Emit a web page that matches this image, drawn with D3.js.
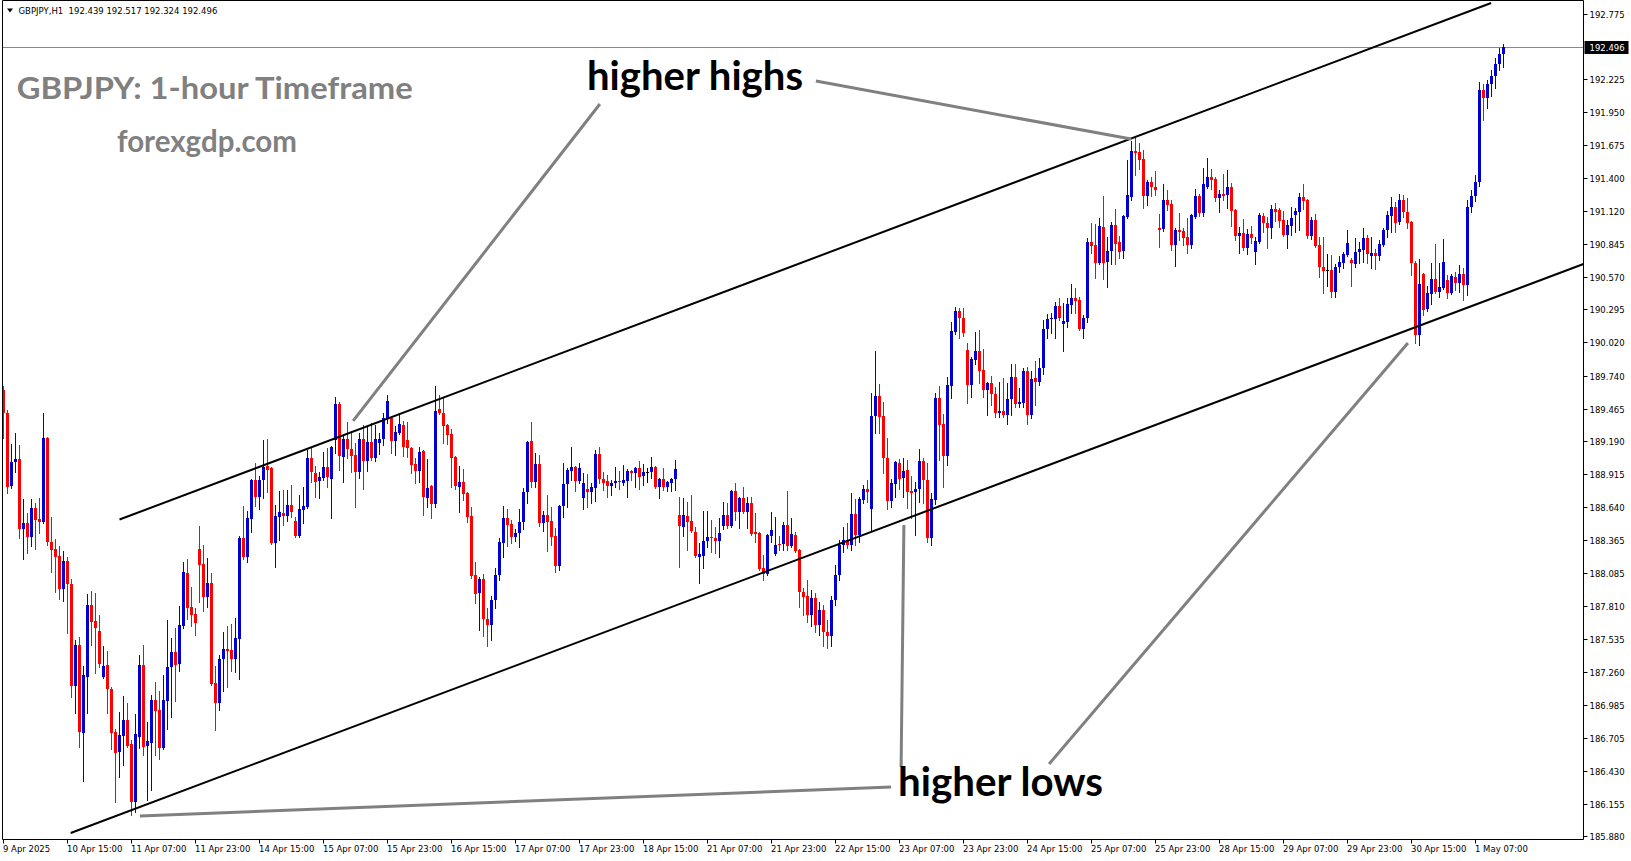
<!DOCTYPE html>
<html><head><meta charset="utf-8">
<script src="https://cdn.jsdelivr.net/npm/d3@7"></script>
<style>html,body{margin:0;padding:0;background:#fff;overflow:hidden}</style>
</head><body><svg id="c" width="1631" height="861"></svg>
<script>
// ---------------- data ----------------
const symbolInfo = "GBPJPY,H1  192.439 192.517 192.324 192.496";
const lastPrice = 192.496;
const timeLabels = ["9 Apr 2025","10 Apr 15:00","11 Apr 07:00","11 Apr 23:00","14 Apr 15:00","15 Apr 07:00","15 Apr 23:00","16 Apr 15:00","17 Apr 07:00","17 Apr 23:00","18 Apr 15:00","21 Apr 07:00","21 Apr 23:00","22 Apr 15:00","23 Apr 07:00","23 Apr 23:00","24 Apr 15:00","25 Apr 07:00","25 Apr 23:00","28 Apr 15:00","29 Apr 07:00","29 Apr 23:00","30 Apr 15:00","1 May 07:00"];
const barsPerLabel = 16;
const priceTicks = [192.775,192.225,191.950,191.675,191.400,191.120,190.845,190.570,190.295,190.020,189.740,189.465,189.190,188.915,188.640,188.365,188.085,187.810,187.535,187.260,186.985,186.705,186.430,186.155,185.880];

const opens = [
189.620,189.428,188.816,189.017,189.042,188.455,188.506,188.388,188.632,188.539,
188.514,189.218,188.346,188.288,188.230,187.952,188.188,187.994,187.140,187.484,
186.746,187.216,187.819,187.685,187.601,187.216,187.316,187.115,186.754,186.587,
186.721,186.855,186.654,186.168,186.713,187.316,186.637,186.663,187.023,186.939,
186.621,187.014,187.300,187.425,187.325,187.643,188.087,187.802,187.744,188.288,
188.163,187.886,188.003,187.165,186.998,187.367,187.450,187.442,187.367,187.534,
188.380,188.221,188.539,188.866,188.724,188.866,188.984,188.967,188.338,188.556,
188.590,188.565,188.657,188.523,188.397,188.615,188.640,189.051,188.925,188.858,
188.883,188.975,188.874,189.201,189.503,189.059,189.210,189.126,189.076,188.933,
189.210,189.025,189.185,189.051,189.176,189.210,189.386,189.386,189.193,189.260,
189.327,189.201,189.135,189.000,188.942,189.109,188.716,188.816,188.665,189.461,
189.428,189.327,189.252,189.059,188.807,188.849,188.757,188.565,188.070,187.919,
188.036,187.702,187.651,187.861,188.070,188.338,188.548,188.497,188.389,188.422,
188.514,188.766,189.193,188.849,189.000,188.506,188.573,188.523,188.397,188.146,
188.648,188.833,188.942,188.975,188.858,188.716,188.791,188.766,188.799,189.084,
188.874,188.858,188.816,188.841,188.858,188.841,188.858,188.942,188.925,188.967,
188.900,188.933,188.933,188.975,188.807,188.874,188.807,188.841,188.874,188.573,
188.472,188.565,188.523,188.430,188.221,188.230,188.355,188.389,188.380,188.355,
188.481,188.573,188.481,188.774,188.598,188.716,188.598,188.674,188.430,188.422,
188.129,188.079,188.397,188.246,188.330,188.330,188.489,188.314,188.406,188.280,
187.928,187.894,187.735,187.878,187.651,187.777,187.593,187.559,187.861,188.070,
188.322,188.363,188.322,188.581,188.406,188.699,188.791,188.623,189.403,189.570,
189.403,189.051,188.690,188.833,189.009,188.883,188.950,188.774,188.766,188.791,
189.025,188.866,188.380,188.699,189.553,189.335,189.067,189.654,190.106,190.282,
190.224,189.955,189.662,189.872,189.947,189.788,189.620,189.679,189.587,189.428,
189.444,189.411,189.545,189.729,189.503,189.511,189.779,189.411,189.721,189.687,
189.805,190.131,190.215,190.215,190.324,190.173,190.190,190.332,190.391,190.374,
190.131,190.224,190.860,190.835,190.684,190.986,190.693,190.785,191.003,190.860,
190.785,191.070,191.237,191.623,191.614,191.556,191.246,191.363,191.321,190.978,
190.969,191.212,191.179,190.835,190.961,190.953,190.902,190.835,191.070,191.246,
191.103,191.321,191.405,191.388,191.229,191.262,191.254,191.321,191.128,190.911,
190.936,190.810,190.927,190.777,190.860,191.078,191.020,190.978,191.137,191.128,
191.045,190.919,190.994,191.087,191.112,191.237,191.212,190.911,191.045,190.835,
190.651,190.626,190.626,190.441,190.651,190.684,190.752,190.709,190.676,190.777,
190.793,190.894,190.743,190.768,190.743,190.835,190.961,191.078,191.154,191.028,
191.212,191.112,191.028,190.684,190.081,190.592,190.299,190.425,190.550,190.441,
190.475,190.542,190.433,190.567,190.517,190.592,190.500,191.154,191.250,191.363,
192.134,192.067,192.184,192.251,192.352,192.439];

const highs = [
189.654,189.453,189.167,189.260,189.159,188.707,188.590,188.707,188.674,188.716,
189.428,189.227,188.556,188.372,188.314,188.271,188.221,188.036,187.526,187.551,
187.308,187.910,187.936,187.919,187.735,187.476,187.434,187.132,186.779,186.922,
187.056,186.998,186.688,186.906,187.400,187.484,186.839,187.065,187.174,187.098,
187.232,187.693,187.542,187.626,187.811,188.179,188.204,187.970,187.794,188.481,
188.322,188.213,188.087,187.308,187.400,187.593,187.643,187.660,187.710,188.397,
188.648,188.606,188.874,189.009,188.900,189.201,189.210,188.975,188.657,188.774,
188.782,188.782,188.824,188.556,188.741,188.807,189.118,189.135,188.984,188.933,
189.101,189.135,189.151,189.561,189.520,189.243,189.352,189.277,189.176,189.260,
189.327,189.310,189.344,189.327,189.260,189.428,189.578,189.394,189.319,189.428,
189.361,189.352,189.143,189.051,189.143,189.118,189.042,188.824,189.654,189.578,
189.553,189.335,189.294,189.067,188.984,188.958,188.766,188.640,188.179,188.053,
188.079,187.794,187.894,188.129,188.380,188.648,188.623,188.531,188.455,188.623,
188.799,189.193,189.352,189.092,189.076,188.606,188.741,188.640,188.464,188.657,
189.009,188.967,189.143,188.984,189.009,188.925,188.917,188.841,189.118,189.143,
188.933,188.908,188.866,188.975,188.942,188.992,188.958,188.950,188.975,189.025,
189.000,188.967,189.059,188.984,188.883,188.967,188.858,188.883,189.034,188.724,
188.716,188.682,188.741,188.472,188.338,188.606,188.606,188.531,188.472,188.548,
188.682,188.674,188.782,188.841,188.724,188.807,188.724,188.724,188.590,188.430,
188.238,188.414,188.598,188.556,188.397,188.514,188.774,188.548,188.430,188.288,
187.961,188.028,187.944,187.919,187.844,187.819,187.693,187.894,188.154,188.363,
188.472,188.506,188.757,188.707,188.724,188.824,188.866,189.595,189.947,189.671,
189.520,189.218,188.874,189.025,189.042,189.051,189.034,188.900,188.849,189.126,
189.051,189.009,188.757,189.595,189.654,189.419,189.729,190.190,190.316,190.307,
190.307,190.014,189.897,190.106,190.123,189.964,189.687,189.738,189.645,189.687,
189.721,189.679,189.838,189.838,189.637,189.805,189.813,189.779,189.863,189.888,
190.207,190.257,190.265,190.358,190.391,190.349,190.391,190.508,190.475,190.400,
190.249,190.894,191.020,191.011,191.061,191.246,190.902,191.028,191.137,190.911,
191.087,191.547,191.707,191.740,191.690,191.631,191.380,191.405,191.455,191.095,
191.346,191.296,191.212,190.978,191.103,190.978,191.061,191.095,191.304,191.262,
191.480,191.564,191.472,191.405,191.296,191.430,191.464,191.355,191.137,190.986,
191.053,190.969,190.994,190.902,191.103,191.103,191.070,191.170,191.187,191.145,
191.120,191.045,191.154,191.145,191.271,191.346,191.221,191.070,191.095,190.902,
190.902,190.760,190.752,190.676,190.743,190.777,190.961,190.726,190.894,190.860,
190.978,190.919,190.902,190.802,190.877,190.978,191.120,191.237,191.196,191.262,
191.254,191.229,191.036,190.701,190.718,190.600,190.492,190.684,190.844,190.684,
190.886,190.584,190.592,190.609,190.668,190.643,191.212,191.300,191.422,192.201,
192.184,192.218,192.302,192.402,192.486,192.517];

const lows = [
189.218,188.757,188.799,188.933,188.380,188.204,188.255,188.314,188.288,188.422,
188.506,188.322,188.095,187.927,187.869,187.852,187.584,187.048,186.914,186.629,
186.345,186.914,187.484,187.249,187.300,187.207,186.914,186.612,186.168,186.378,
186.478,186.629,186.059,186.084,186.621,186.562,186.185,186.269,186.562,186.529,
186.612,186.779,186.880,187.014,187.266,187.626,187.702,187.643,187.568,187.844,
187.769,187.802,187.149,186.771,186.939,187.098,187.132,187.266,187.258,187.199,
188.204,188.179,188.430,188.648,188.623,188.716,188.766,188.330,188.137,188.363,
188.489,188.523,188.556,188.389,188.389,188.506,188.632,188.849,188.724,188.716,
188.866,188.807,188.548,189.092,188.950,188.849,189.051,188.933,188.640,188.883,
188.791,188.942,189.034,189.025,189.084,189.159,189.344,189.092,189.076,189.252,
189.067,189.059,188.925,188.841,188.849,188.573,188.640,188.548,188.640,189.419,
189.176,189.168,188.807,188.791,188.598,188.699,188.514,188.045,187.836,187.609,
187.559,187.476,187.526,187.794,188.028,188.221,188.314,188.338,188.355,188.305,
188.455,188.674,188.807,188.807,188.481,188.439,188.271,188.322,188.095,188.112,
188.556,188.640,188.866,188.774,188.841,188.623,188.640,188.674,188.690,188.841,
188.782,188.724,188.741,188.807,188.791,188.824,188.724,188.866,188.807,188.791,
188.824,188.849,188.883,188.799,188.716,188.782,188.774,188.774,188.782,188.137,
188.397,188.280,188.430,188.221,188.003,188.129,188.305,188.263,188.255,188.221,
188.455,188.464,188.472,188.531,188.464,188.590,188.464,188.406,188.346,188.112,
188.028,188.070,188.346,188.238,188.280,188.280,188.280,188.305,188.263,187.802,
187.735,187.676,187.643,187.593,187.568,187.476,187.459,187.476,187.819,188.028,
188.263,188.296,188.280,188.322,188.346,188.674,188.682,188.447,189.260,189.260,
188.925,188.623,188.640,188.724,188.791,188.724,188.632,188.548,188.406,188.682,
188.674,188.346,188.322,188.665,189.034,188.807,188.992,189.553,190.090,190.056,
190.073,189.511,189.561,189.838,189.679,189.561,189.411,189.495,189.394,189.394,
189.394,189.335,189.411,189.478,189.478,189.478,189.335,189.386,189.495,189.662,
189.754,190.056,190.098,190.056,190.207,189.947,190.148,190.265,190.265,190.123,
190.056,190.190,190.768,190.559,190.676,190.550,190.483,190.676,190.676,190.726,
190.726,191.061,191.212,191.422,191.472,191.145,191.170,191.246,191.254,190.819,
190.953,191.128,190.793,190.659,190.877,190.835,190.768,190.810,191.061,191.078,
191.078,191.313,191.304,191.204,191.112,191.212,191.145,190.994,190.877,190.768,
190.793,190.760,190.852,190.676,190.852,190.944,190.810,190.894,191.036,190.986,
190.911,190.810,190.919,190.944,190.961,191.137,190.894,190.886,190.818,190.567,
190.433,190.492,190.400,190.400,190.609,190.643,190.743,190.492,190.651,190.684,
190.693,190.684,190.643,190.634,190.709,190.827,190.902,190.944,190.944,191.011,
191.070,190.978,190.584,190.014,189.997,190.249,190.282,190.341,190.433,190.400,
190.466,190.391,190.425,190.458,190.441,190.374,190.416,191.112,191.200,191.330,
191.883,191.983,192.084,192.151,192.302,192.324];

const closes = [
189.428,188.807,189.017,189.042,188.455,188.506,188.388,188.632,188.531,188.514,
189.218,188.346,188.280,188.221,187.952,188.188,187.994,187.140,187.484,186.754,
187.232,187.819,187.676,187.626,187.325,187.308,187.115,186.746,186.579,186.730,
186.855,186.637,186.168,186.738,187.316,186.629,186.679,187.023,186.931,186.621,
187.023,187.300,187.425,187.316,187.651,188.095,187.794,187.735,187.668,188.154,
187.886,188.003,187.157,186.998,187.367,187.450,187.434,187.367,187.542,188.380,
188.221,188.548,188.866,188.724,188.866,188.975,188.950,188.338,188.565,188.598,
188.565,188.657,188.598,188.397,188.623,188.648,189.051,188.933,188.849,188.891,
188.975,188.891,189.143,189.503,189.067,189.210,189.126,189.067,188.933,189.210,
189.025,189.185,189.051,189.210,189.210,189.386,189.528,189.193,189.268,189.335,
189.143,189.135,188.992,188.942,189.101,188.724,188.799,188.665,189.444,189.428,
189.319,189.243,189.051,188.816,188.849,188.749,188.556,188.062,187.911,188.036,
187.702,187.651,187.861,188.070,188.346,188.548,188.489,188.389,188.422,188.514,
188.766,189.185,188.849,189.000,188.506,188.573,188.514,188.389,188.146,188.648,
188.833,188.950,188.975,188.858,188.967,188.841,188.766,188.807,189.084,188.874,
188.841,188.816,188.841,188.858,188.849,188.866,188.942,188.925,188.967,188.891,
188.933,188.933,188.975,188.807,188.874,188.807,188.849,188.874,188.958,188.481,
188.573,188.514,188.439,188.230,188.246,188.355,188.389,188.380,188.355,188.422,
188.573,188.481,188.774,188.598,188.716,188.598,188.674,188.414,188.414,188.120,
188.079,188.406,188.447,188.322,188.322,188.489,188.314,188.414,188.271,187.928,
187.886,187.735,187.878,187.651,187.777,187.593,187.559,187.861,188.070,188.322,
188.363,188.322,188.581,188.406,188.707,188.791,188.766,189.403,189.570,189.394,
189.051,188.690,188.841,189.017,188.874,188.942,188.766,188.757,188.791,189.025,
188.866,188.380,188.707,189.553,189.327,189.067,189.662,190.115,190.282,190.224,
190.098,189.662,189.880,189.947,189.779,189.620,189.679,189.587,189.428,189.444,
189.411,189.545,189.729,189.503,189.520,189.779,189.411,189.712,189.687,189.805,
190.131,190.215,190.224,190.324,190.224,190.198,190.341,190.391,190.366,190.131,
190.224,190.860,190.827,190.684,190.994,190.684,190.785,191.003,190.844,190.777,
191.078,191.254,191.623,191.606,191.547,191.246,191.363,191.321,191.296,190.961,
191.212,191.170,190.835,190.961,190.944,190.894,190.835,191.087,191.246,191.103,
191.346,191.405,191.380,191.229,191.262,191.246,191.321,191.120,190.911,190.936,
190.810,190.927,190.894,190.869,191.087,191.020,190.978,191.137,191.112,191.036,
190.919,191.003,191.061,191.120,191.237,191.204,190.911,191.045,190.827,190.651,
190.617,190.626,190.441,190.651,190.693,190.760,190.852,190.684,190.777,190.802,
190.894,190.760,190.768,190.743,190.844,190.961,191.087,191.154,191.020,191.212,
191.112,191.020,190.684,190.081,190.508,190.290,190.433,190.550,190.441,190.483,
190.693,190.433,190.575,190.517,190.592,190.500,191.154,191.250,191.363,192.134,
192.067,192.184,192.251,192.352,192.439,192.496];

// annotation lines in (bar index, price)
const upperChannel = [[29, 188.535], [371.9, 192.863]];
const lowerChannel = [[16.8, 185.909], [395, 190.676]];
const arrowLines = [
  [[149.1, 192.017], [87.4, 189.361]],
  [[203.1, 192.209], [281.9, 191.723]],
  [[221.9, 186.294], [34.1, 186.051]],
  [[224.4, 186.462], [225.1, 188.489]],
  [[261.4, 186.487], [351.1, 190.014]]
];

// ---------------- drawing ----------------
const svg = d3.select("#c");
const frame = {left: 2.5, top: 0.5, right: 1583.5, bottom: 839.5};
const x = d3.scaleLinear().domain([0, opens.length - 1]).range([3.5, 3.5 + 4 * (opens.length - 1)]);
const y = d3.scaleLinear().domain([185.880, 192.775]).range([836.4, 13.5]);
const axisFont = "DejaVu Sans, Verdana, sans-serif";

svg.append("rect").attr("width", 1631).attr("height", 861).attr("fill", "#fff");

svg.append("defs").append("clipPath").attr("id", "plotclip")
  .append("rect").attr("x", frame.left).attr("y", frame.top)
  .attr("width", frame.right - frame.left).attr("height", frame.bottom - frame.top);

const plot = svg.append("g").attr("clip-path", "url(#plotclip)");

// current price line
plot.append("line")
  .attr("x1", frame.left).attr("x2", frame.right)
  .attr("y1", Math.round(y(lastPrice)) + 0.5).attr("y2", Math.round(y(lastPrice)) + 0.5)
  .attr("stroke", "#7d8a97").attr("stroke-width", 1);

// candles
const candles = opens.map((o, i) => {
  const c = closes[i];
  return {i, o, c, h: Math.max(highs[i], o, c), l: Math.min(lows[i], o, c)};
});
const colorOf = d => d.c > d.o ? "#0000d0" : (d.c < d.o ? "#ff0000" : "#000000");
const cg = plot.append("g");
cg.selectAll("line.wick").data(candles).join("line")
  .attr("class", "wick")
  .attr("x1", d => x(d.i)).attr("x2", d => x(d.i))
  .attr("y1", d => Math.round(y(d.h))).attr("y2", d => Math.round(y(d.l)) + 1)
  .attr("stroke", colorOf).attr("stroke-width", 1);
cg.selectAll("rect.body").data(candles).join("rect")
  .attr("class", "body")
  .attr("x", d => x(d.i) - 1.5).attr("width", 3)
  .attr("y", d => Math.round(y(Math.max(d.o, d.c))))
  .attr("height", d => Math.max(1, Math.round(y(Math.min(d.o, d.c))) - Math.round(y(Math.max(d.o, d.c)))))
  .attr("fill", colorOf);

// channel lines
const line = d3.line().x(p => x(p[0])).y(p => y(p[1]));
[upperChannel, lowerChannel].forEach(seg => {
  plot.append("path").attr("d", line(seg)).attr("stroke", "#000").attr("stroke-width", 2).attr("fill", "none");
});
// gray pointer lines
arrowLines.forEach(seg => {
  plot.append("path").attr("d", line(seg)).attr("stroke", "#808080").attr("stroke-width", 3).attr("fill", "none");
});

// annotation text
const annFont = "Lato, 'Open Sans', sans-serif";
svg.append("text").attr("x", 16.7).attr("y", 99.3).text("GBPJPY: 1-hour Timeframe")
  .attr("font-family", annFont).attr("font-weight", 700).attr("font-size", 31)
  .attr("fill", "#808080").attr("textLength", 396).attr("lengthAdjust", "spacingAndGlyphs");
svg.append("text").attr("x", 117).attr("y", 152).text("forexgdp.com")
  .attr("font-family", annFont).attr("font-weight", 700).attr("font-size", 30)
  .attr("fill", "#808080").attr("textLength", 180).attr("lengthAdjust", "spacingAndGlyphs");
svg.append("text").attr("x", 587).attr("y", 89.5).text("higher highs")
  .attr("font-family", annFont).attr("font-weight", 700).attr("font-size", 40)
  .attr("fill", "#000").attr("textLength", 216).attr("lengthAdjust", "spacingAndGlyphs");
svg.append("text").attr("x", 898).attr("y", 796).text("higher lows")
  .attr("font-family", annFont).attr("font-weight", 700).attr("font-size", 40)
  .attr("fill", "#000").attr("textLength", 205).attr("lengthAdjust", "spacingAndGlyphs");

// frame
svg.append("path")
  .attr("d", `M${frame.left},${frame.bottom}V${frame.top}H${frame.right}V${frame.bottom}H${frame.left}`)
  .attr("stroke", "#000").attr("stroke-width", 1).attr("fill", "none");

// right price axis
const ra = svg.append("g");
priceTicks.forEach(p => {
  const yy = Math.round(y(p)) + 0.5;
  ra.append("line").attr("x1", frame.right).attr("x2", frame.right + 4).attr("y1", yy).attr("y2", yy).attr("stroke", "#000");
  ra.append("text").attr("x", frame.right + 6).attr("y", yy + 3).text(p.toFixed(3))
    .attr("font-family", axisFont).attr("font-size", 8.5).attr("fill", "#000");
});
const ly = Math.round(y(lastPrice)) + 0.5;
ra.append("rect").attr("x", frame.right + 1).attr("y", ly - 6.5).attr("width", 44).attr("height", 13).attr("fill", "#000");
ra.append("text").attr("x", frame.right + 6).attr("y", ly + 3).text(lastPrice.toFixed(3))
  .attr("font-family", axisFont).attr("font-size", 8.5).attr("fill", "#fff");

// bottom time axis
const ba = svg.append("g");
timeLabels.forEach((t, k) => {
  const xx = x(k * barsPerLabel);
  ba.append("line").attr("x1", xx).attr("x2", xx).attr("y1", frame.bottom).attr("y2", frame.bottom + 4).attr("stroke", "#000");
  ba.append("text").attr("x", xx - 0.5).attr("y", 851.5).text(t)
    .attr("font-family", axisFont).attr("font-size", 8.5).attr("fill", "#000");
});

// header
svg.append("path").attr("d", "M7,8.5H13L10,12.5Z").attr("fill", "#000");
svg.append("text").attr("x", 18.5).attr("y", 14).text(symbolInfo).attr("xml:space", "preserve")
  .style("white-space", "pre")
  .attr("font-family", axisFont).attr("font-size", 8.5).attr("fill", "#000");
</script>
</body></html>
